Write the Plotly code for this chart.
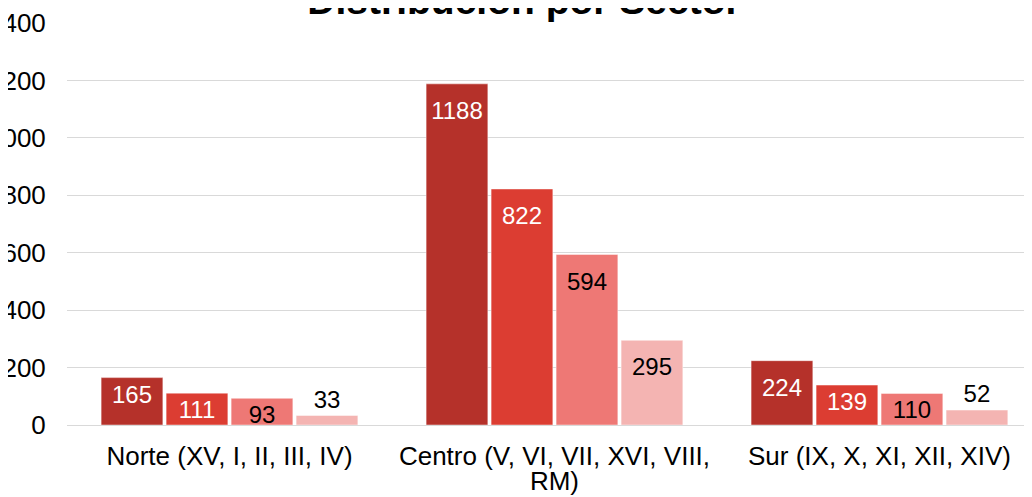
import plotly.graph_objects as go

categories = ["Norte (XV, I, II, III, IV)", "Centro (V, VI, VII, XVI, VIII,<br>RM)", "Sur (IX, X, XI, XII, XIV)"]
series_names = ["Serie 1", "Serie 2", "Serie 3", "Serie 4"]
series_values = [
    [165, 1188, 224],
    [111, 822, 139],
    [93, 594, 110],
    [33, 295, 52],
]
colors = ["#B5312A", "#DC3D32", "#EE7875", "#F4B4B2"]
text_colors = ["white", "white", "black", "black"]
y_ticks = [0, 200, 400, 600, 800, 1000, 1200, 1400]
y_tick_labels = ["0", "200", "400", "600", "800", "1000", "1200", "1400"]

FONT = "Liberation Sans, Arial, sans-serif"
SPACER = '<span style="font-size:1px">\u00a0</span><br>'


def label_for(v):
    # tall bars: push label down a little from the bar end (like the reference)
    return (SPACER + str(v)) if v >= 200 else str(v)


fig = go.Figure()
for name, vals, col, tcol in zip(series_names, series_values, colors, text_colors):
    positions = ["inside" if v > 80 else "outside" for v in vals]
    fig.add_trace(go.Bar(
        x=categories, y=vals, name=name,
        marker=dict(color=col, line=dict(color="rgba(255,255,255,0.45)", width=1)),
        text=[label_for(v) for v in vals],
        textposition=positions,
        insidetextanchor="end",
        textangle=0,
        constraintext="none",
        cliponaxis=False,
        insidetextfont=dict(family=FONT, size=24, color=tcol),
        outsidetextfont=dict(family=FONT, size=24, color="black"),
        hovertemplate="%{y}<extra></extra>",
    ))

tick_text = ['<span style="font-size:26px">' + c.replace("<br>", '</span><br><span style="font-size:26px">') + "</span>"
             for c in categories]

fig.update_layout(
    width=1032, height=497,
    margin=dict(l=59, r=0, t=15, b=80),
    paper_bgcolor="white", plot_bgcolor="white",
    barmode="group", bargap=0.2, bargroupgap=0.05,
    showlegend=False,
    font=dict(family=FONT, color="black"),
    title=dict(text="<b>Distribución por Sector</b>", x=0.5, xanchor="center",
               xref="container", yref="container", y=1 - 6 / 497, yanchor="bottom",
               font=dict(family=FONT, size=39, color="black")),
)
fig.update_yaxes(range=[0, 1400], tickvals=y_ticks, ticktext=y_tick_labels,
                 showgrid=True, gridcolor="#D9D9D9", gridwidth=1,
                 zeroline=False, showline=False, ticks="outside", ticklen=15,
                 tickcolor="rgba(0,0,0,0)", tickfont=dict(family=FONT, size=26, color="black"),
                 automargin=False)
fig.update_xaxes(range=[-0.5, 2.494], showline=True, linecolor="#D9D9D9", linewidth=1,
                 tickvals=categories, ticktext=tick_text,
                 ticks="outside", ticklen=16, tickcolor="rgba(0,0,0,0)",
                 tickfont=dict(family=FONT, size=19, color="black"), automargin=False)

fig.write_html("out.html")
